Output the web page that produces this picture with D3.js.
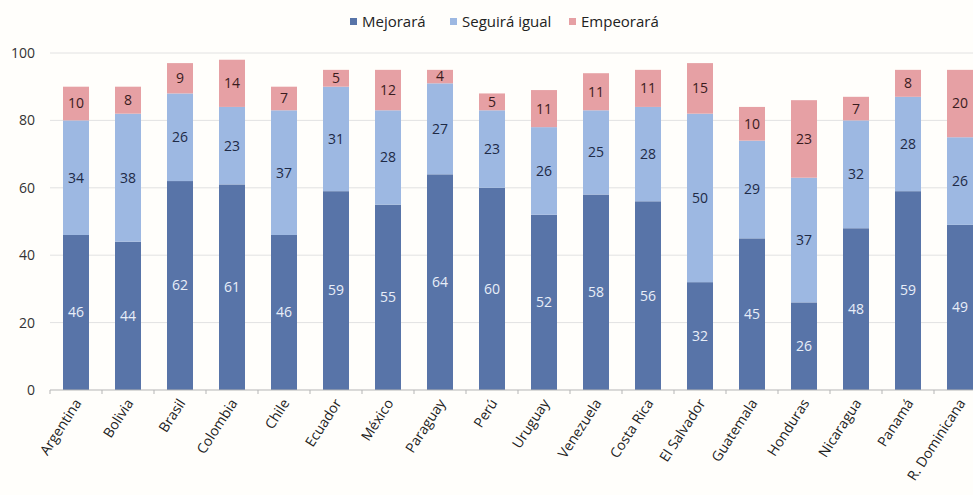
<!DOCTYPE html>
<html><head><meta charset="utf-8">
<script src="https://cdn.jsdelivr.net/npm/d3@7/dist/d3.min.js"></script>
<style>
body{margin:0;background:#fffefb;}
svg{display:block;font-family:"Open Sans","DejaVu Sans",sans-serif;}
</style></head>
<body>
<svg id="c" width="973" height="495"></svg>
<script>
const categories = ["Argentina","Bolivia","Brasil","Colombia","Chile","Ecuador","México","Paraguay","Perú","Uruguay","Venezuela","Costa Rica","El Salvador","Guatemala","Honduras","Nicaragua","Panamá","R. Dominicana"];
const mejorara   = [46,44,62,61,46,59,55,64,60,52,58,56,32,45,26,48,59,49];
const seguira    = [34,38,26,23,37,31,28,27,23,26,25,28,50,29,37,32,28,26];
const empeorara  = [10, 8, 9,14, 7, 5,12, 4, 5,11,11,11,15,10,23, 7, 8,20];
const seriesNames = ["Mejorará","Seguirá igual","Empeorará"];
const yTicks = [0,20,40,60,80,100];

const colors = ["#5874a8","#9db8e2","#e6a0a4"];
const textColors = ["#e8eef8","#1e2a46","#3a1c1e"];

const svg = d3.select("#c");
svg.append("rect").attr("width",973).attr("height",495).attr("fill","#fffefb");

const x = d3.scaleBand().domain(categories).range([50, 50 + 52*18]).paddingInner(0.5).paddingOuter(0.25);
const y = d3.scaleLinear().domain([0,100]).range([390,53]);

// gridlines
svg.append("g").selectAll("line").data(yTicks.filter(t=>t>0)).join("line")
  .attr("x1",50).attr("x2",973).attr("y1",d=>y(d)).attr("y2",d=>y(d))
  .attr("stroke","#e2e2e2").attr("stroke-width",1);

// y axis labels
const yAxis = d3.axisLeft(y).tickValues(yTicks).tickSize(0).tickPadding(15);
const gy = svg.append("g").attr("transform","translate(50,0)").call(yAxis);
gy.select(".domain").remove();
gy.selectAll("text").attr("font-size",14).attr("fill","#333").attr("font-family","'Open Sans',sans-serif");

const data = categories.map((c,i)=>({cat:c, vals:[mejorara[i],seguira[i],empeorara[i]]}));
const stack = d3.stack().keys([0,1,2]).value((d,k)=>d.vals[k]);
const stacked = stack(data);

stacked.forEach((layer,k)=>{
  const g = svg.append("g");
  g.selectAll("rect").data(layer).join("rect")
    .attr("x",d=>x(d.data.cat)).attr("width",x.bandwidth())
    .attr("y",d=>y(d[1])).attr("height",d=>y(d[0])-y(d[1]))
    .attr("fill",colors[k]);
  g.selectAll("text").data(layer).join("text")
    .attr("x",d=>x(d.data.cat)+x.bandwidth()/2)
    .attr("y",d=>(y(d[0])+y(d[1]))/2)
    .attr("dy","0.35em").attr("text-anchor","middle")
    .attr("font-size",14).attr("fill",textColors[k])
    .text(d=>d.data.vals[k]);
});

// x axis
const gx = svg.append("g").attr("transform","translate(0,390)");
gx.append("line").attr("x1",50).attr("x2",973).attr("y1",0).attr("y2",0).attr("stroke","#b5b5b5");
const bounds = d3.range(19).map(i=>50+52*i);
gx.selectAll("line.t").data(bounds).join("line").attr("class","t")
  .attr("x1",d=>d).attr("x2",d=>d).attr("y1",0).attr("y2",4).attr("stroke","#b5b5b5");
gx.selectAll("text").data(categories).join("text")
  .attr("transform",d=>`translate(${x(d)+x.bandwidth()/2+6},${13}) rotate(-57)`)
  .attr("text-anchor","end").attr("font-size",14).attr("fill","#222")
  .text(d=>d);

// legend
const legX = [350, 450, 569];
const lg = svg.append("g");
seriesNames.forEach((n,k)=>{
  lg.append("rect").attr("x",legX[k]).attr("y",18).attr("width",7).attr("height",7).attr("fill",colors[k]);
  lg.append("text").attr("x",legX[k]+12).attr("y",22).attr("dy","0.35em")
    .attr("font-size",15).attr("fill","#222").text(n);
});
</script>
</body></html>
